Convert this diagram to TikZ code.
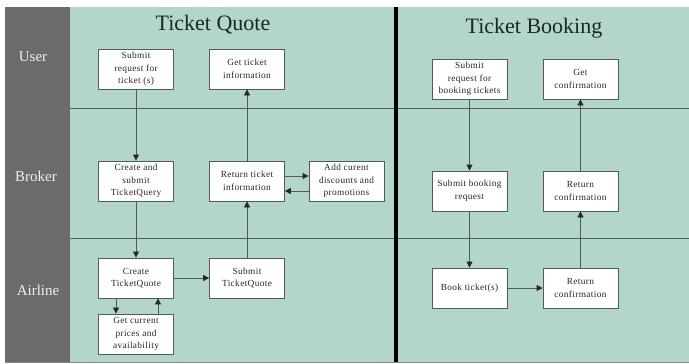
\documentclass[tikz,border=0pt]{standalone}
\usepackage{fontspec}
\setmainfont{Liberation Serif}
\newfontfamily\boxfont[LetterSpace=4]{Liberation Serif}
\usetikzlibrary{arrows.meta}
\definecolor{lanefill}{HTML}{B4D6C9}
\definecolor{headfill}{HTML}{6B6B69}
\definecolor{rulecol}{HTML}{4F5C57}
\definecolor{inkcol}{HTML}{262626}
\definecolor{titlecol}{HTML}{1C2824}
\begin{document}
\begin{tikzpicture}[x=1pt,y=-1pt,
  task/.style={draw=rulecol, fill=white, line width=0.8pt, minimum width=75pt,
    minimum height=40pt, inner sep=1pt, align=center, text=inkcol,
    font=\boxfont\fontsize{9.3}{12.5}\selectfont},
  flow/.style={draw=rulecol, line width=0.8pt,
    -{Triangle[length=6pt,width=6pt,color=black!85]}},
  lanelabel/.style={text=white!94!black, font=\fontsize{15}{18}\selectfont},
  phase/.style={text=titlecol, font=\fontsize{22}{26}\selectfont}]

\useasboundingbox (0,0) rectangle (689,364);
\fill[white] (0,0) rectangle (689,364);

% swimlane background, header column and separators
\fill[lanefill] (70,7) rectangle (689,362);
\fill[headfill] (5,7) rectangle (70,362);
\draw[rulecol, line width=0.9pt] (70,108) -- (689,108);
\draw[rulecol, line width=0.9pt] (70,238) -- (689,238);
\draw[rulecol!70, line width=0.8pt] (5,362) -- (689,362);
\draw[black, line width=3.5pt] (396,7) -- (396,362);

% lane names
\node[lanelabel] (luser) at (33,57) {User};
\node[lanelabel] (lbroker) at (36,176) {Broker};
\node[lanelabel] (lairline) at (38,290) {Airline};

% phase titles
\node[phase] (tquote) at (213,25) {Ticket Quote};
\node[phase] (tbook) at (534,28) {Ticket Booking};

% ticket quote tasks
\node[task] (sub1) at (136,69) {Submit\\request for\\ticket (s)};
\node[task] (gti) at (247,69) {Get ticket\\information};
\node[task] (csq) at (136,181) {Create and\\submit\\TicketQuery};
\node[task] (ret) at (247,181) {Return ticket\\information};
\node[task] (add) at (346.5,181) {Add curent\\discounts and\\promotions};
\node[task] (ctq) at (136,278) {Create\\TicketQuote};
\node[task] (stq) at (247,278) {Submit\\TicketQuote};
\node[task] (gcp) at (136,334) {Get current\\prices and\\availability};

% ticket booking tasks
\node[task] (sbt) at (469.5,79) {Submit\\request for\\booking tickets};
\node[task] (gcf) at (580.5,79) {Get\\confirmation};
\node[task] (sbr) at (469.5,191) {Submit booking\\request};
\node[task] (rc1) at (580.5,191) {Return\\confirmation};
\node[task] (bkt) at (469.5,288) {Book ticket(s)};
\node[task] (rc2) at (580.5,288) {Return\\confirmation};

% quote flow
\draw[flow] (sub1) -- (csq);
\draw[flow] (csq) -- (ctq);
\draw[flow] (ctq) -- (stq);
\draw[flow] (stq) -- (ret);
\draw[flow] (ret) -- (gti);
\draw[flow] ([yshift=5pt]ret.east) -- ([yshift=5pt]add.west);
\draw[flow] ([yshift=-10pt]add.west) -- ([yshift=-10pt]ret.east);
\draw[flow] ([xshift=-20pt]ctq.south) -- ([xshift=-20pt]gcp.north);
\draw[flow] ([xshift=22pt]gcp.north) -- ([xshift=22pt]ctq.south);

% booking flow
\draw[flow] (sbt) -- (sbr);
\draw[flow] (sbr) -- (bkt);
\draw[flow] (bkt) -- (rc2);
\draw[flow] (rc2) -- (rc1);
\draw[flow] (rc1) -- (gcf);
\end{tikzpicture}
\end{document}
